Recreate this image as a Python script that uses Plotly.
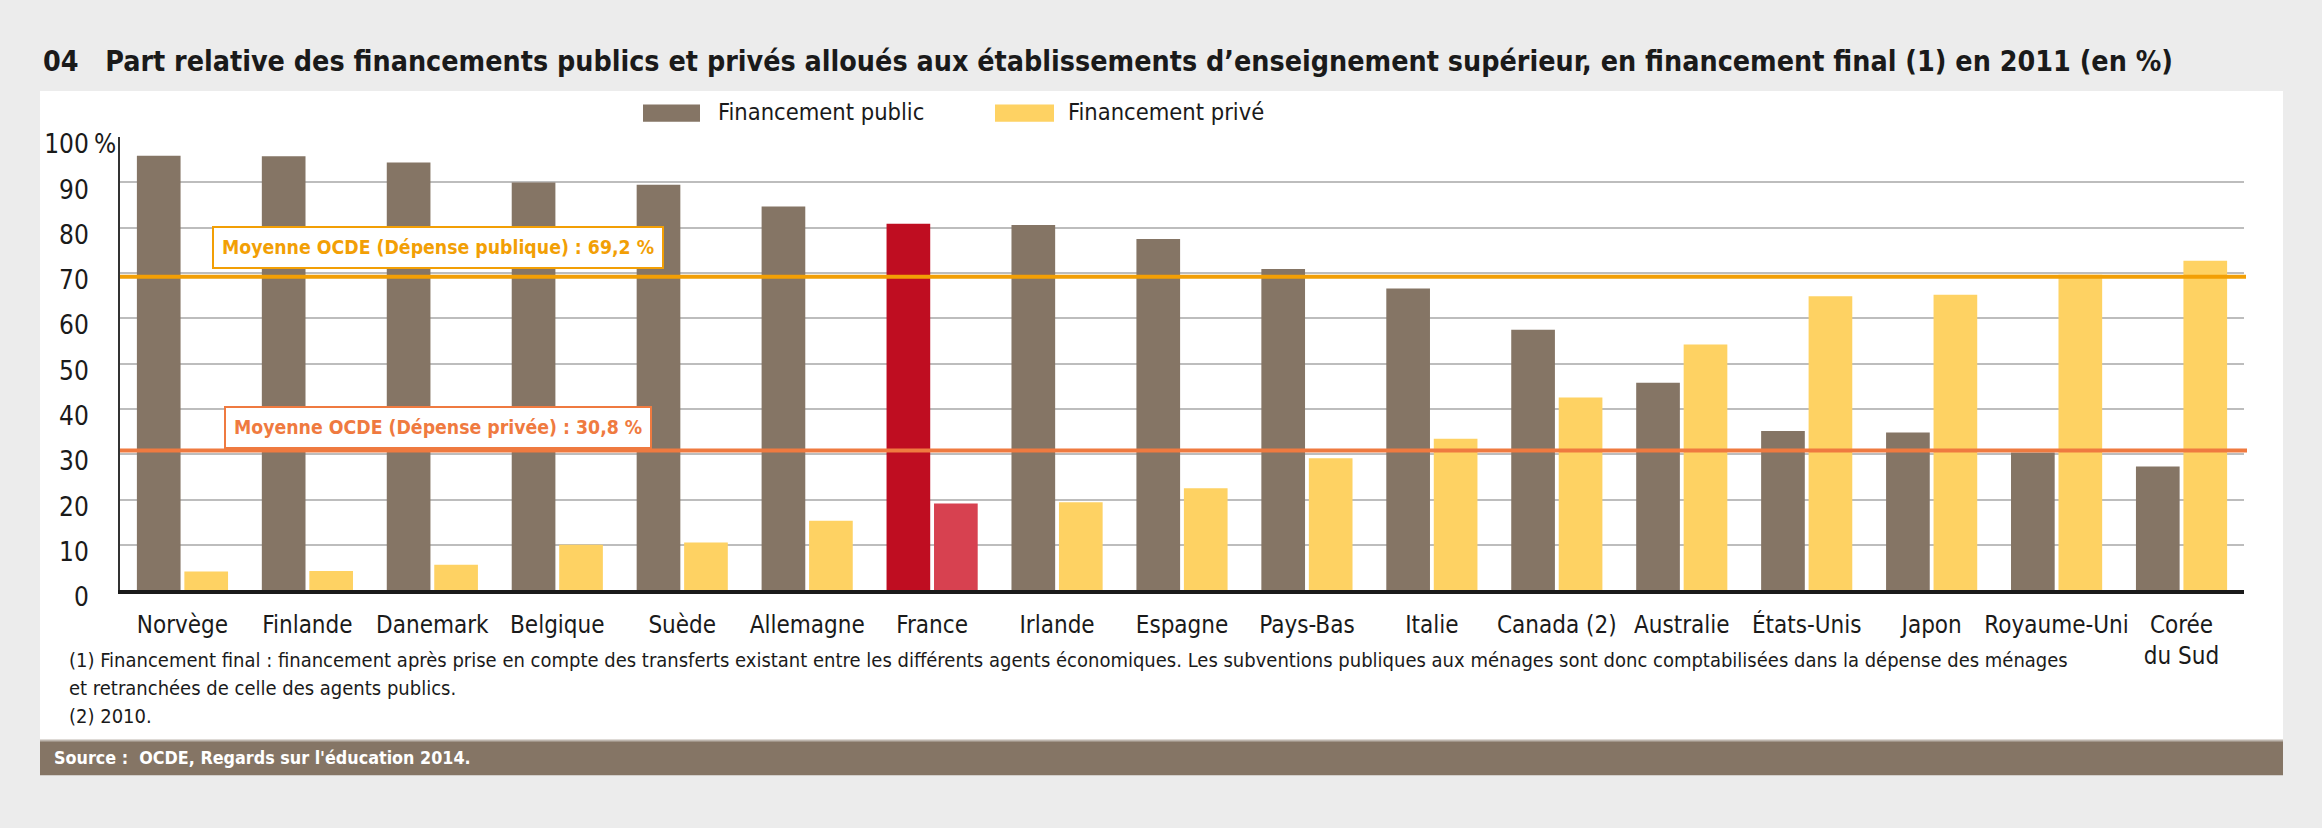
import plotly.graph_objects as go

W, H = 2322, 828

countries = ["Norvège", "Finlande", "Danemark", "Belgique", "Suède", "Allemagne",
             "France", "Irlande", "Espagne", "Pays-Bas", "Italie", "Canada (2)",
             "Australie", "États-Unis", "Japon", "Royaume-Uni", "Corée<br>du Sud"]
public = [95.9, 95.8, 94.4, 90.0, 89.5, 84.7, 80.9, 80.6, 77.5, 70.9, 66.6,
          57.5, 45.8, 35.1, 34.8, 30.4, 27.3]
private = [4.1, 4.2, 5.6, 10.0, 10.5, 15.3, 19.1, 19.4, 22.5, 29.1, 33.4,
           42.5, 54.2, 64.9, 65.2, 69.6, 72.7]
mean_public = 69.2
mean_private = 30.8
ytick_vals = [0, 10, 20, 30, 40, 50, 60, 70, 80, 90, 100]
ytick_text = ["0", "10", "20", "30", "40", "50", "60", "70", "80", "90", "100"]

title = ("04   Part relative des financements publics et privés alloués aux "
         "établissements d’enseignement supérieur, en financement final (1) en 2011 (en %)")
notes = [
    "(1) Financement final : financement après prise en compte des transferts existant "
    "entre les différents agents économiques. Les subventions publiques aux ménages sont "
    "donc comptabilisées dans la dépense des ménages",
    "et retranchées de celle des agents publics.",
    "(2) 2010.",
]
source = "Source :  OCDE, Regards sur l'éducation 2014."

BROWN = "#857565"
YELLOW = "#fed263"
RED = "#bf0d21"
RED_LIGHT = "#d74150"
ORANGE = "#f29f05"
CORAL = "#ef7a40"
GRID = "#bdbdbd"
FONT = "Liberation Sans Narrow, Arial Narrow, DejaVu Sans Condensed, sans-serif"


def px(x):
    return x / W


def py(y):
    return 1 - y / H


pub_colors = [RED if c == "France" else BROWN for c in countries]
priv_colors = [RED_LIGHT if c == "France" else YELLOW for c in countries]

fig = go.Figure()
fig.add_trace(go.Bar(x=countries, y=public, marker=dict(color=pub_colors, line_width=0),
                     name="Financement public"))
fig.add_trace(go.Bar(x=countries, y=private, marker=dict(color=priv_colors, line_width=0),
                     name="Financement privé"))

shapes = [
    # white panel
    dict(type="rect", xref="paper", yref="paper", x0=px(40), x1=px(2283),
         y0=py(760), y1=py(86), fillcolor="white", line_width=0, layer="below"),
    # source band
    dict(type="rect", xref="paper", yref="paper", x0=px(40), x1=px(2283),
         y0=py(796), y1=py(760), fillcolor=BROWN, line_width=0, layer="below"),
    dict(type="line", xref="paper", yref="paper", x0=px(40), x1=px(2283),
         y0=py(760), y1=py(760), line=dict(color="#bdb5ad", width=2)),
    # OECD means
    dict(type="line", xref="paper", yref="y", x0=px(120), x1=px(2246),
         y0=mean_public, y1=mean_public, line=dict(color=ORANGE, width=4), layer="above"),
    dict(type="line", xref="paper", yref="y", x0=px(120), x1=px(2247),
         y0=mean_private, y1=mean_private, line=dict(color=CORAL, width=4), layer="above"),
    # legend swatches
    dict(type="rect", xref="paper", yref="paper", x0=px(643), x1=px(700),
         y0=py(118), y1=py(100), fillcolor=BROWN, line_width=0),
    dict(type="rect", xref="paper", yref="paper", x0=px(995), x1=px(1054),
         y0=py(118), y1=py(100), fillcolor=YELLOW, line_width=0),
]

annotations = [
    dict(text=f"<b>{title}</b>", x=px(41), y=py(55), xanchor="left", yanchor="middle",
         font=dict(size=28.4, color="#1a1a1a")),
    dict(text="Financement public", x=px(716), y=py(108), xanchor="left", yanchor="middle",
         font=dict(size=23.5, color="#1a1a1a")),
    dict(text="Financement privé", x=px(1066), y=py(108), xanchor="left", yanchor="middle",
         font=dict(size=23.5, color="#1a1a1a")),
    dict(text="<b>Moyenne OCDE (Dépense publique) : 69,2 %</b>", x=px(438), y=py(248),
         xanchor="center", yanchor="middle", font=dict(size=19.3, color=ORANGE),
         bgcolor="white", bordercolor=ORANGE, borderwidth=2, borderpad=8),
    dict(text="<b>Moyenne OCDE (Dépense privée) : 30,8 %</b>", x=px(438), y=py(435),
         xanchor="center", yanchor="middle", font=dict(size=19.3, color=CORAL),
         bgcolor="white", bordercolor=CORAL, borderwidth=2, borderpad=8),
    dict(text=f"<b>{source}</b>", x=px(52), y=py(778), xanchor="left", yanchor="middle",
         font=dict(size=17.8, color="white")),
    # unit after the top tick label
    dict(text="%", x=px(92), y=100, yref="y", xanchor="left", yanchor="middle",
         yshift=-7, font=dict(size=26, color="#1a1a1a")),
]
for line, y in zip(notes, [677, 706, 735]):
    annotations.append(dict(text=line, x=px(67), y=py(y), xanchor="left", yanchor="middle",
                            font=dict(size=20, color="#1a1a1a")))
for a in annotations:
    a.setdefault("xref", "paper")
    a.setdefault("yref", "paper")
    a.setdefault("showarrow", False)

fig.update_layout(
    width=W, height=H,
    margin=dict(l=0, r=0, t=0, b=0),
    paper_bgcolor="#ececec",
    plot_bgcolor="white",
    font=dict(family=FONT, color="#1a1a1a"),
    barmode="group", bargap=0.24, bargroupgap=0.08,
    showlegend=False,
    shapes=shapes,
    annotations=annotations,
    xaxis=dict(domain=[px(120), px(2244)], showline=True, linecolor="#1a1a1a",
               linewidth=4, ticks="", tickfont=dict(size=24), showgrid=False,
               ticklabelstandoff=10),
    yaxis=dict(domain=[py(604), py(134)], range=[0, 100], tickvals=ytick_vals,
               ticktext=ytick_text, showgrid=True, gridcolor=GRID, gridwidth=2,
               showline=True, linecolor="#333333", linewidth=2, ticks="",
               tickfont=dict(size=26), ticklabelstandoff=24, ticklabelshift=7,
               zeroline=False),
)

# drop the default page margin so the figure sits at the window's top-left corner
fig.write_html("out.html", config={"displayModeBar": False},
               post_script="document.body.style.margin = '0';")
